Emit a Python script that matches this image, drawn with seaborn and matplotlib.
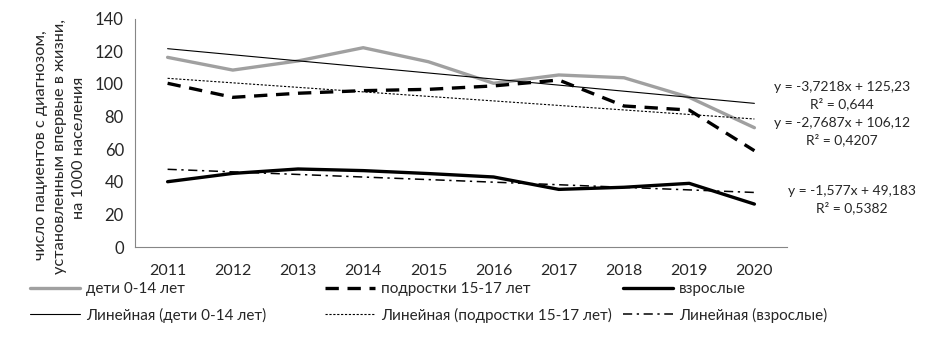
import matplotlib
matplotlib.use("Agg")
import matplotlib.pyplot as plt
import numpy as np
import pandas as pd
import seaborn as sns

YEARS = [2011, 2012, 2013, 2014, 2015, 2016, 2017, 2018, 2019, 2020]
CHILDREN = [116.2, 108.4, 114.0, 122.1, 113.5, 100.3, 105.4, 103.7, 91.7, 73.1]
TEENS = [100.3, 91.7, 94.2, 95.8, 96.6, 98.7, 102.3, 86.4, 83.9, 59.0]
ADULTS = [40.0, 45.1, 47.8, 46.8, 45.0, 42.9, 35.3, 36.6, 39.0, 26.3]

# trend coefficients as printed on the chart (x = 1..10)
TREND_CHILDREN = (-3.7218, 125.23)
TREND_TEENS = (-2.7687, 106.12)
TREND_ADULTS = (-1.577, 49.183)

EQ_CHILDREN = "y = -3,7218x + 125,23\nR² = 0,644"
EQ_TEENS = "y = -2,7687x + 106,12\nR² = 0,4207"
EQ_ADULTS = "y = -1,577x + 49,183\nR² = 0,5382"

YLABEL_LINES = ["число пациентов с диагнозом,",
                "установленным впервые в жизни,",
                "на 1000 населения"]

sns.set_style("white")
plt.rcParams['font.family'] = ['Lato', 'Roboto', 'DejaVu Sans']

W, H = 931, 337
fig = plt.figure(figsize=(W / 100, H / 100), dpi=100)
ax = fig.add_axes([135 / W, 1 - 247 / H, (787 - 135) / W, (247 - 18.5) / H])

df = pd.DataFrame({'year': YEARS, 'children': CHILDREN, 'teens': TEENS, 'adults': ADULTS})
xi = np.arange(1, len(YEARS) + 1)
df['tr_children'] = TREND_CHILDREN[0] * xi + TREND_CHILDREN[1]
df['tr_teens'] = TREND_TEENS[0] * xi + TREND_TEENS[1]
df['tr_adults'] = TREND_ADULTS[0] * xi + TREND_ADULTS[1]

sns.lineplot(data=df, x='year', y='children', ax=ax, color='#a0a0a0', lw=2.4,
             label='дети 0-14 лет')
sns.lineplot(data=df, x='year', y='teens', ax=ax, color='black', lw=2.4,
             linestyle=(0, (4, 2.6)), label='подростки 15-17 лет')
sns.lineplot(data=df, x='year', y='adults', ax=ax, color='black', lw=2.4,
             label='взрослые')
sns.lineplot(data=df, x='year', y='tr_children', ax=ax, color='black', lw=0.8,
             label='Линейная (дети 0-14 лет)')
sns.lineplot(data=df, x='year', y='tr_teens', ax=ax, color='black', lw=0.8,
             linestyle=(0, (2, 1.5)), label='Линейная (подростки 15-17 лет)')
sns.lineplot(data=df, x='year', y='tr_adults', ax=ax, color='black', lw=1.1,
             linestyle=(0, (6, 3, 1.5, 3)), label='Линейная (взрослые)')

ax.set_xlim(2010.5, 2020.5)
ax.set_ylim(0, 140)
ax.set_yticks(range(0, 141, 20))
ax.set_xticks(YEARS)
ax.set_xticks(np.arange(2010.5, 2021, 1), minor=True)
ax.tick_params(axis='x', which='major', length=0, labelsize=11.5, pad=12)
ax.tick_params(axis='x', which='minor', length=5, color='#868686', width=0.8)
ax.tick_params(axis='y', length=5, color='#868686', width=0.8, labelsize=12, pad=3)
ax.set_xlabel('')
ax.set_ylabel('')
for s in ['top', 'right']:
    ax.spines[s].set_visible(False)
for s in ['left', 'bottom']:
    ax.spines[s].set_color('#868686')
    ax.spines[s].set_linewidth(0.8)

# y label, one text per line so each line sits where the reference puts it
for line, (px, py) in zip(YLABEL_LINES, [(41, 145), (60, 146), (79, 148)]):
    fig.text(px / W, 1 - py / H, line, rotation=90, ha='center', va='center', fontsize=11.8)

fig.text(842 / W, 1 - 96 / H, EQ_CHILDREN, ha='center', va='center', fontsize=10, linespacing=1.4)
fig.text(842 / W, 1 - 132 / H, EQ_TEENS, ha='center', va='center', fontsize=10, linespacing=1.4)
fig.text(852 / W, 1 - 200 / H, EQ_ADULTS, ha='center', va='center', fontsize=10, linespacing=1.4)

handles, labels = ax.get_legend_handles_labels()
ax.get_legend().remove()
cols = [(30, [0, 3]), (325, [1, 4]), (623, [2, 5])]
for x0, idx in cols:
    leg = fig.legend([handles[i] for i in idx], [labels[i] for i in idx],
                     loc='center left', bbox_to_anchor=(x0 / W, 1 - 302.5 / H),
                     frameon=False, fontsize=11, handlelength=3.3, handletextpad=0.35,
                     borderpad=0, borderaxespad=0, labelspacing=0.75)

fig.savefig('out.png', dpi=100)
